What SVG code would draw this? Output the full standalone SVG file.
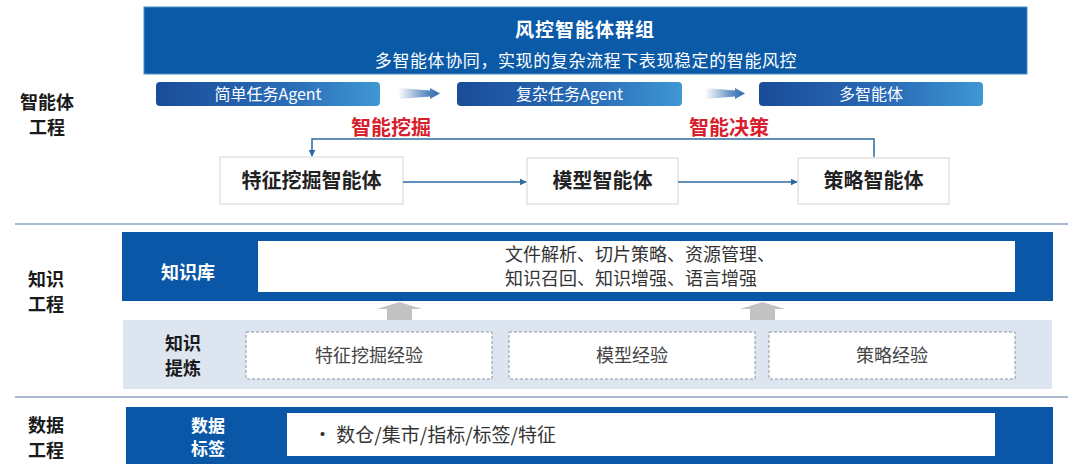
<svg xmlns="http://www.w3.org/2000/svg" width="1080" height="472" viewBox="0 0 1080 472">
<defs>
<style>
text{font-family:"Noto Sans CJK SC","Noto Sans",sans-serif;}
.side{font-size:18px;font-weight:700;fill:#1a1a1a;text-anchor:middle;}
.pill{font-size:16px;fill:#ffffff;text-anchor:middle;}
.red{font-size:20px;font-weight:700;fill:#d8202c;text-anchor:middle;}
.node{fill:#ffffff;stroke:#d4d4d4;stroke-width:1;}
.nodet{font-size:20px;font-weight:700;fill:#222222;text-anchor:middle;}
.dark{fill:#0a57a7;}
.wlab{font-size:18px;font-weight:700;fill:#ffffff;text-anchor:middle;}
.dash{fill:#ffffff;stroke:#8796a6;stroke-width:1;stroke-dasharray:3 2;}
.dasht{font-size:18px;fill:#444444;text-anchor:middle;}
.body{font-size:18px;fill:#333333;}
.conn{fill:none;stroke:#2b6aa3;stroke-width:1.5;}
.sep{stroke:#8aa2b8;stroke-width:1.5;}
.up{fill:#c2c2c2;}
</style>
<linearGradient id="pillg" x1="0" y1="0" x2="1" y2="0">
<stop offset="0" stop-color="#1a4c98"/>
<stop offset="0.6" stop-color="#2a6db8"/>
<stop offset="1" stop-color="#3f97d3"/>
</linearGradient>
<linearGradient id="arrg" x1="0" y1="0" x2="1" y2="0">
<stop offset="0" stop-color="#2f6cb0" stop-opacity="0"/>
<stop offset="0.7" stop-color="#2f6cb0" stop-opacity="0.8"/>
<stop offset="1" stop-color="#2f6cb0"/>
</linearGradient>
<marker id="ah" viewBox="0 0 10 10" refX="9" refY="5" markerWidth="7" markerHeight="7" markerUnits="userSpaceOnUse" orient="auto">
<path d="M0,0 L10,5 L0,10 z" fill="#2b6aa3"/>
</marker>
</defs>
<rect width="1080" height="472" fill="#ffffff"/>

<g id="side-labels">
<text class="side" x="47" y="109">智能体</text>
<text class="side" x="47" y="134">工程</text>
<text class="side" x="46" y="286">知识</text>
<text class="side" x="46" y="311">工程</text>
<text class="side" x="46" y="432">数据</text>
<text class="side" x="46" y="457">工程</text>
</g>

<g id="banner">
<rect x="144" y="7" width="883" height="67" fill="#0b5aa8" stroke="#4d8cc8" stroke-width="1"/>
<text x="585" y="37" font-size="19" font-weight="700" fill="#ffffff" text-anchor="middle" letter-spacing="1">风控智能体群组</text>
<text x="586" y="67" font-size="17" fill="#ffffff" text-anchor="middle" letter-spacing="0.6">多智能体协同，实现的复杂流程下表现稳定的智能风控</text>
</g>

<g id="pill-simple">
<rect x="156" y="82" width="224" height="24" rx="4" fill="url(#pillg)"/>
<text class="pill" x="268" y="100">简单任务Agent</text>
</g>
<g id="pill-complex">
<rect x="457" y="82" width="225" height="24" rx="4" fill="url(#pillg)"/>
<text class="pill" x="569.5" y="100">复杂任务Agent</text>
</g>
<g id="pill-multi">
<rect x="759" y="82" width="224" height="24" rx="4" fill="url(#pillg)"/>
<text class="pill" x="871" y="100">多智能体</text>
</g>
<g id="pill-arrows">
<path d="M398,88 L430,90.5 L430,88 L440,93.5 L430,99 L430,96.5 L398,99 z" fill="url(#arrg)"/>
<path d="M705,88 L735,90.5 L735,88 L745,93.5 L735,99 L735,96.5 L705,99 z" fill="url(#arrg)"/>
</g>

<g id="labels-red">
<text class="red" x="391" y="135">智能挖掘</text>
<text class="red" x="729" y="135">智能决策</text>
</g>

<g id="node-feature">
<rect class="node" x="220" y="157" width="183" height="47"/>
<text class="nodet" x="311.5" y="188">特征挖掘智能体</text>
</g>
<g id="node-model">
<rect class="node" x="527" y="158" width="151" height="46"/>
<text class="nodet" x="602.5" y="188">模型智能体</text>
</g>
<g id="node-strategy">
<rect class="node" x="798" y="158" width="151" height="46"/>
<text class="nodet" x="873.5" y="188">策略智能体</text>
</g>

<g id="connectors">
<path class="conn" d="M874,157 V139 H312 V156" marker-end="url(#ah)"/>
<path class="conn" d="M403,182 H526" marker-end="url(#ah)"/>
<path class="conn" d="M678,182 H797" marker-end="url(#ah)"/>
<path class="up" d="M399.5,302 L422,309 L412,309 L412,320 L387,320 L387,309 L377,309 z"/>
<path class="up" d="M762.5,302 L785,309 L775,309 L775,320 L750,320 L750,309 L740,309 z"/>
</g>

<g id="separators">
<line class="sep" x1="15" y1="224" x2="1068" y2="224"/>
<line class="sep" x1="15" y1="397" x2="1068" y2="397"/>
</g>

<g id="knowledge-base">
<rect class="dark" x="122" y="232" width="931" height="69"/>
<rect x="258" y="241" width="757" height="51" fill="#ffffff"/>
<text class="wlab" x="188" y="279">知识库</text>
<text class="body" x="505" y="261">文件解析、切片策略、资源管理、</text>
<text class="body" x="505" y="285">知识召回、知识增强、语言增强</text>
</g>

<g id="knowledge-refine">
<rect x="123" y="320" width="929" height="69" fill="#dde6f0"/>
<text x="183" y="350" font-size="18" font-weight="700" fill="#1a1a1a" text-anchor="middle">知识</text>
<text x="183" y="375" font-size="18" font-weight="700" fill="#1a1a1a" text-anchor="middle">提炼</text>
</g>
<g id="exp-feature">
<rect class="dash" x="246" y="332" width="246" height="47"/>
<text class="dasht" x="369" y="362">特征挖掘经验</text>
</g>
<g id="exp-model">
<rect class="dash" x="509" y="332" width="246" height="47"/>
<text class="dasht" x="632" y="362">模型经验</text>
</g>
<g id="exp-strategy">
<rect class="dash" x="769" y="332" width="246" height="47"/>
<text class="dasht" x="892" y="362">策略经验</text>
</g>

<g id="data-tags">
<rect class="dark" x="126" y="407" width="927" height="57"/>
<rect x="287" y="413" width="708" height="43" fill="#ffffff"/>
<text x="208" y="432" font-size="17" font-weight="700" fill="#ffffff" text-anchor="middle">数据</text>
<text x="208" y="455" font-size="17" font-weight="700" fill="#ffffff" text-anchor="middle">标签</text>
<text x="313" y="442" font-size="19" fill="#333333">•  数仓/集市/指标/标签/特征</text>
</g>
</svg>
